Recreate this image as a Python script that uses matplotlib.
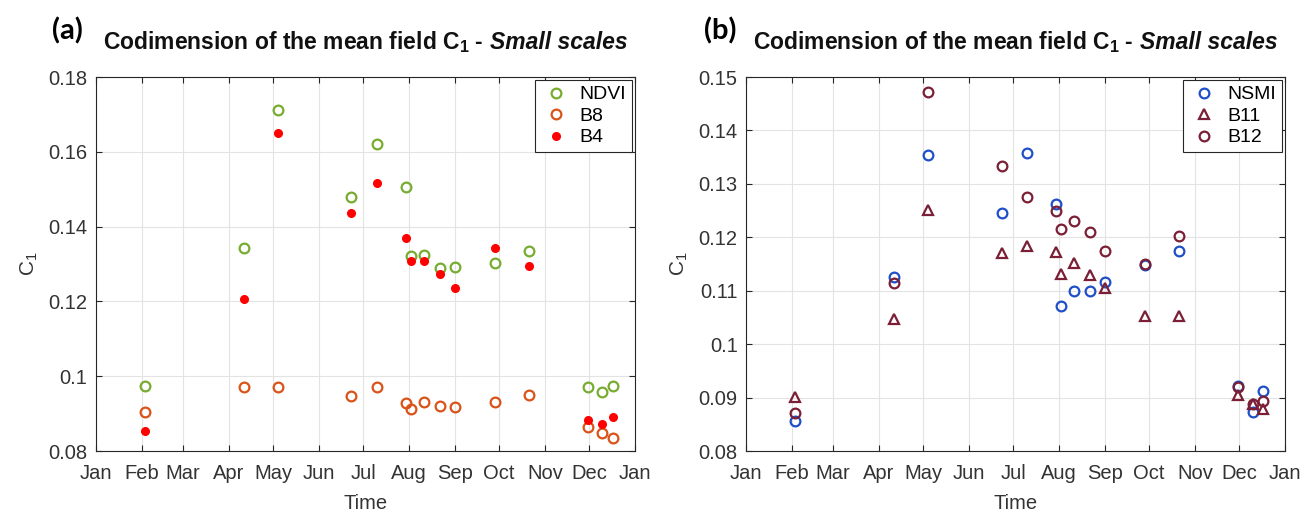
import datetime as dt
import matplotlib
matplotlib.use('Agg')
from matplotlib import pyplot as plt

plt.rcParams['font.family'] = ['Liberation Sans', 'DejaVu Sans']
plt.rcParams['mathtext.fontset'] = 'custom'
plt.rcParams['mathtext.rm'] = 'Liberation Sans'
plt.rcParams['mathtext.it'] = 'Liberation Sans:italic'
plt.rcParams['mathtext.bf'] = 'Liberation Sans:bold'

# acquisition dates (same for both panels)
dates = ['2018-02-03', '2018-04-11', '2018-05-04', '2018-06-23', '2018-07-10',
         '2018-07-30', '2018-08-02', '2018-08-11', '2018-08-22', '2018-09-01',
         '2018-09-28', '2018-10-21', '2018-11-30', '2018-12-10', '2018-12-17']

# panel (a)
ndvi = [0.0974, 0.1343, 0.1711, 0.1478, 0.1621, 0.1507, 0.1322, 0.1324,
        0.1290, 0.1292, 0.1304, 0.1334, 0.0970, 0.0958, 0.0974]
b8 = [0.0904, 0.0971, 0.0971, 0.0946, 0.0972, 0.0929, 0.0912, 0.0931,
      0.0920, 0.0917, 0.0931, 0.0951, 0.0865, 0.0849, 0.0835]
b4 = [0.0854, 0.1206, 0.1651, 0.1437, 0.1517, 0.1370, 0.1307, 0.1307,
      0.1274, 0.1236, 0.1343, 0.1296, 0.0882, 0.0873, 0.0892]

# panel (b)
nsmi = [0.0856, 0.1126, 0.1355, 0.1245, 0.1358, 0.1262, 0.1071, 0.1099,
        0.1099, 0.1116, 0.1148, 0.1174, 0.0922, 0.0873, 0.0912]
b11 = [0.0902, 0.1047, 0.1252, 0.1170, 0.1183, 0.1172, 0.1132, 0.1152,
       0.1130, 0.1106, 0.1053, 0.1053, 0.0905, 0.0888, 0.0879]
b12 = [0.0872, 0.1114, 0.1472, 0.1333, 0.1275, 0.1250, 0.1215, 0.1230,
       0.1210, 0.1175, 0.1151, 0.1202, 0.0920, 0.0889, 0.0893]

month_labels = ['Jan', 'Feb', 'Mar', 'Apr', 'May', 'Jun', 'Jul', 'Aug', 'Sep',
                'Oct', 'Nov', 'Dec', 'Jan']

x = [dt.datetime.strptime(d, '%Y-%m-%d') for d in dates]
month_ticks = [dt.datetime(2018, m, 1) for m in range(1, 13)] + [dt.datetime(2019, 1, 1)]

dark = '#262626'

fig = plt.figure(figsize=(13.02, 5.12), dpi=100)
axa = fig.add_axes([0.0737, 0.119, 0.4140, 0.7305])
axb = fig.add_axes([0.5730, 0.119, 0.4140, 0.7305])


def style(ax, ylim, yticks, ylabels):
    ax.set_xlim(month_ticks[0], month_ticks[-1])
    ax.set_xticks(month_ticks)
    ax.set_xticklabels(month_labels)
    ax.set_ylim(*ylim)
    ax.set_yticks(yticks)
    ax.set_yticklabels(ylabels)
    ax.grid(True, color='#e3e3e3', linewidth=0.8)
    ax.set_axisbelow(True)
    ax.tick_params(direction='in', top=True, right=True, length=4, width=0.8,
                   colors=dark, labelsize=14.5, labelcolor='#333333')
    ax.tick_params(axis='x', pad=9)
    ax.tick_params(axis='y', pad=6)
    for s in ax.spines.values():
        s.set_color(dark)
        s.set_linewidth(0.8)
    ax.set_xlabel('Time', fontsize=14.5, color='#333333', labelpad=8)
    ax.set_ylabel(r'C$_1$', fontsize=15, color='#333333', labelpad=6)


# (a)
axa.plot(x, ndvi, 'o', ls='none', mfc='none', mec='#77AC30', mew=1.6, ms=7, label='NDVI')
axa.plot(x, b8, 'o', ls='none', mfc='none', mec='#D95319', mew=1.6, ms=7, label='B8')
axa.plot(x, b4, 'o', ls='none', mfc='#FF0000', mec='#FF0000', ms=5.5, label='B4')
style(axa, (0.08, 0.18), [0.08, 0.1, 0.12, 0.14, 0.16, 0.18],
      ['0.08', '0.1', '0.12', '0.14', '0.16', '0.18'])

# (b)
axb.plot(x, nsmi, 'o', ls='none', mfc='none', mec='#1F4FC8', mew=1.6, ms=7, label='NSMI')
axb.plot(x, b11, '^', ls='none', mfc='none', mec='#7A1F35', mew=1.6, ms=7.5, label='B11')
axb.plot(x, b12, 'o', ls='none', mfc='none', mec='#7A1F35', mew=1.6, ms=7, label='B12')
style(axb, (0.08, 0.15), [0.08, 0.09, 0.1, 0.11, 0.12, 0.13, 0.14, 0.15],
      ['0.08', '0.09', '0.1', '0.11', '0.12', '0.13', '0.14', '0.15'])

for ax in (axa, axb):
    leg = ax.legend(loc='upper right', fontsize=14, fancybox=False, framealpha=1,
                    edgecolor=dark, borderaxespad=0.15, handletextpad=0.4,
                    handlelength=1.6, labelspacing=0.2, borderpad=0.3)
    leg.get_frame().set_linewidth(0.8)

# titles: bold part + bold italic part, centred over each axes
titles = []
for ax in (axa, axb):
    t1 = ax.text(0, 1.075, r'Codimension of the mean field C$_\mathbf{1}$ -',
                 transform=ax.transAxes, fontsize=16.5, fontweight='bold',
                 color='#111111', ha='left', va='baseline')
    t2 = ax.text(0, 1.075, 'Small scales', transform=ax.transAxes, fontsize=16.5,
                 fontweight='bold', fontstyle='italic', color='#111111',
                 ha='left', va='baseline')
    titles.append((ax, t1, t2))

fig.canvas.draw()
r = fig.canvas.get_renderer()
for ax, t1, t2 in titles:
    w1 = t1.get_window_extent(r).width
    w2 = t2.get_window_extent(r).width
    gap = 6
    axw = ax.get_window_extent(r).width
    start = (axw - (w1 + gap + w2)) / 2
    t1.set_x(start / axw)
    t2.set_x((start + w1 + gap) / axw)

fig.text(0.040, 0.922, '(a)', fontsize=21, fontweight='bold', family='Lato')
fig.text(0.541, 0.922, '(b)', fontsize=21, fontweight='bold', family='Lato')

fig.savefig('out.png', dpi=100)
